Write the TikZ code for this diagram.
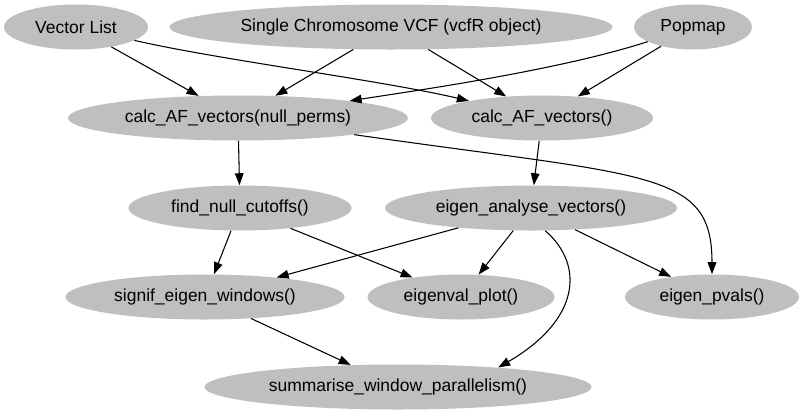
\documentclass[tikz,border=0pt]{standalone}
\usepackage{fontspec}
\setmainfont{Liberation Sans}
\usepackage{tikz}
\usetikzlibrary{arrows.meta,shapes.geometric}
\tikzset{
         func/.style=
          {
           shape=ellipse,
           fill=lightgray,
           draw=none,
           inner sep=0pt,
           minimum height=33.75pt,
           font=\fontsize{13.1pt}{15pt}\selectfont
          },
         edge/.style=
          {
           draw=black,
           line width=.8pt,
           -{Triangle[length=9pt,width=6.5pt]}
          }
        }
\begin{document}
\begin{tikzpicture}[x=.75pt,y=-.75pt]
\useasboundingbox(0,0)rectangle(800,415);
%inputs
\node[func,minimum width=108pt] (veclist) at(76,27){Vector List};
\node[func,minimum width=332.25pt] (vcf) at(391,27){Single Chromosome VCF (vcfR object)};
\node[func,minimum width=88.5pt] (popmap) at(693,27){Popmap};
%allele frequency vectors
\node[func,minimum width=255pt] (calcnull) at(238,118){calc\_AF\_vectors(null\_perms)};
\node[func,minimum width=166.5pt] (calcaf) at(542,118){calc\_AF\_vectors()};
%analysis
\node[func,minimum width=167.25pt] (cutoffs) at(240,208){find\_null\_cutoffs()};
\node[func,minimum width=219pt] (eigen) at(531,208){eigen\_analyse\_vectors()};
%outputs
\node[func,minimum width=209.25pt] (signif) at(205,297){signif\_eigen\_windows()};
\node[func,minimum width=140.25pt] (evplot) at(461,297){eigenval\_plot()};
\node[func,minimum width=130.5pt] (pvals) at(712,297){eigen\_pvals()};
\node[func,minimum width=290.25pt] (summary) at(398,387){summarise\_window\_parallelism()};
%edges
\draw[edge](veclist)--(calcnull);
\draw[edge](veclist)..controls(220,60)and(380,80)..(calcaf);
\draw[edge](vcf)--(calcnull);
\draw[edge](vcf)--(calcaf);
\draw[edge](popmap)..controls(560,70)and(420,90)..(calcnull);
\draw[edge](popmap)--(calcaf);
\draw[edge](calcnull)--(cutoffs);
\draw[edge](calcnull)..controls(650,177)and(712,170)..(pvals);
\draw[edge](calcaf)--(eigen);
\draw[edge](cutoffs)--(signif);
\draw[edge](cutoffs)--(evplot);
\draw[edge](eigen)--(signif);
\draw[edge](eigen)--(evplot);
\draw[edge](eigen.-58)..controls(585,265)and(580,320)..(summary.11);
\draw[edge](eigen)--(pvals);
\draw[edge](signif)--(summary);
\end{tikzpicture}
\end{document}
